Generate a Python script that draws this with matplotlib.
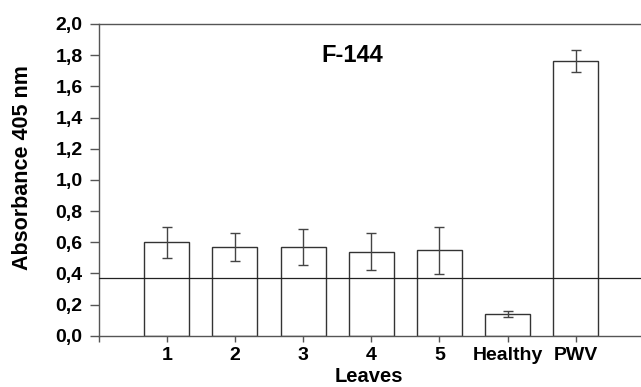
import matplotlib
matplotlib.use("Agg")
import matplotlib.pyplot as plt

# Absorbance values
categories = ["1", "2", "3", "4", "5", "Healthy", "PWV"]
absorbance = [0.60, 0.57, 0.57, 0.54, 0.548, 0.137, 1.763]
errors = [0.10, 0.09, 0.115, 0.12, 0.15, 0.02, 0.07]
cutoff = 0.368

plt.rcParams['font.family'] = ['Liberation Sans', 'DejaVu Sans']
plt.rcParams['font.weight'] = 'bold'

fig = plt.figure(figsize=(6.41, 3.87), dpi=100)
ax = fig.add_axes([0.1537, 0.1326, 0.851, 0.8054])

positions = list(range(1, len(categories) + 1))
line_col = '#333333'
ax.bar(positions, absorbance, width=0.66, color='white', edgecolor=line_col,
       linewidth=1.0, zorder=2)
ax.errorbar(positions, absorbance, yerr=errors, fmt='none', ecolor='#444444',
            elinewidth=1.0, capsize=3.5, capthick=1.0, zorder=3)
ax.axhline(cutoff, color='#222222', linewidth=0.9, zorder=4)

ax.set_xlim(0, 8)
ax.set_ylim(0, 2.0)
ax.set_xticks([0] + positions)
ax.set_xticklabels([""] + categories)
yt = [i * 0.2 for i in range(11)]
ax.set_yticks(yt)
ax.set_yticklabels([f"{v:.1f}".replace('.', ',') for v in yt])

for s in ['left', 'bottom', 'top']:
    ax.spines[s].set_color('#555555')
    ax.spines[s].set_linewidth(1.0)
ax.spines['right'].set_visible(False)
ax.tick_params(axis='y', length=6.5, width=1.0, color='#555555', labelsize=14, pad=5)
ax.tick_params(axis='x', length=4.5, width=1.0, color='#555555', labelsize=14, pad=4)
for lab in ax.get_xticklabels() + ax.get_yticklabels():
    lab.set_fontweight('bold')

ax.text(3.72, 1.795, "F-144", ha='center', va='center', fontsize=17, fontweight='bold')
ax.set_ylabel("Absorbance 405 nm", fontsize=15.5, fontweight='bold')
ax.yaxis.set_label_coords(-0.12, 0.54)
ax.set_xlabel("Leaves", fontsize=14.5, fontweight='bold', va='bottom')
ax.xaxis.set_label_coords(0.496, -0.16)

fig.savefig("out.png", dpi=100)
